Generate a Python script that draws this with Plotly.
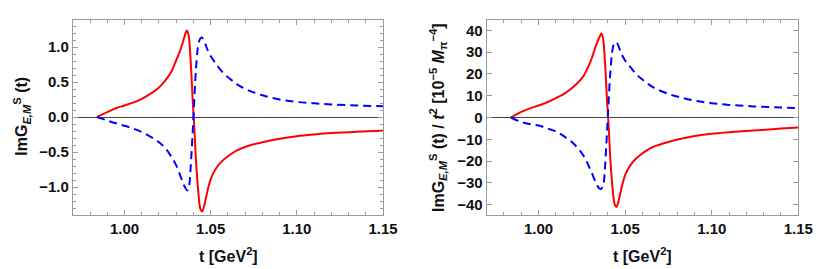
import plotly.graph_objects as go

# ---- data ----
t_red_l = [0.984, 0.990, 0.995, 1.000, 1.005, 1.010, 1.015, 1.020, 1.0236, 1.027, 1.0293, 1.032, 1.034, 1.0352,
           1.0362, 1.0372, 1.0380, 1.0388, 1.0396, 1.0404, 1.0412, 1.0420, 1.0430, 1.0440, 1.0450, 1.0460,
           1.0473, 1.0488, 1.0505, 1.0530, 1.0560, 1.060, 1.065, 1.072, 1.080, 1.090, 1.100, 1.110, 1.120,
           1.135, 1.150]
g_red_l = [0, 0.07, 0.125, 0.165, 0.205, 0.26, 0.33, 0.42, 0.52, 0.64, 0.77, 0.93, 1.08, 1.18,
           1.237, 1.17, 0.95, 0.62, 0.22, -0.1, -0.5, -0.82, -1.12, -1.31, -1.35, -1.29,
           -1.15, -0.99, -0.86, -0.74, -0.645, -0.56, -0.48, -0.41, -0.36, -0.31, -0.275, -0.25, -0.23,
           -0.21, -0.195]

t_blue_l = [0.984, 0.990, 0.995, 1.000, 1.005, 1.010, 1.015, 1.020, 1.0236, 1.027, 1.030, 1.033, 1.035,
            1.0365, 1.0375, 1.0383, 1.0391, 1.0399, 1.0407, 1.0415, 1.0425, 1.0435, 1.0445, 1.0455,
            1.0468, 1.048, 1.050, 1.0525, 1.0555, 1.0590, 1.063, 1.067, 1.073, 1.080, 1.090, 1.100,
            1.110, 1.120, 1.135, 1.150]
g_blue_l = [0, -0.05, -0.09, -0.125, -0.165, -0.215, -0.28, -0.36, -0.44, -0.56, -0.69, -0.88, -1.0,
            -1.05, -0.98, -0.75, -0.42, -0.05, 0.35, 0.70, 0.98, 1.10, 1.135, 1.12,
            1.05, 0.97, 0.87, 0.78, 0.68, 0.59, 0.51, 0.44, 0.37, 0.31, 0.25, 0.215,
            0.195, 0.18, 0.165, 0.153]

t_red_r = [0.984, 0.990, 0.995, 1.000, 1.005, 1.010, 1.015, 1.020, 1.0257, 1.030, 1.0333, 1.0352, 1.0362,
           1.0372, 1.0380, 1.0388, 1.0396, 1.0404, 1.0412, 1.0420, 1.0430, 1.0440, 1.0450, 1.0460,
           1.0473, 1.0488, 1.0505, 1.0532, 1.0560, 1.0589, 1.0625, 1.0665, 1.076, 1.0835, 1.0912,
           1.100, 1.110, 1.120, 1.129, 1.140, 1.150]
g_red_r = [0, 2.6, 4.2, 5.5, 7.0, 8.9, 11.0, 14.0, 18.8, 25.7, 33.4, 37.0, 38.6,
           36.5, 29.7, 19.5, 7.0, -3.0, -15.5, -25.5, -34.5, -40.0, -41.1, -39.0,
           -34.5, -29.5, -25.5, -21.8, -19.1, -17.1, -15.1, -13.4, -11.0, -9.6, -8.4,
           -7.5, -6.8, -6.2, -5.7, -5.1, -4.6]

t_blue_r = [0.984, 0.990, 0.995, 1.000, 1.005, 1.010, 1.015, 1.020, 1.0257, 1.030, 1.0333, 1.035, 1.0362,
            1.0375, 1.0383, 1.0391, 1.0399, 1.0407, 1.0415, 1.0425, 1.0435, 1.0445, 1.0455, 1.0468,
            1.048, 1.050, 1.0532, 1.0560, 1.0589, 1.0625, 1.0665, 1.076, 1.0835, 1.0912, 1.100,
            1.110, 1.120, 1.129, 1.140, 1.150]
g_blue_r = [0, -2.1, -3.0, -3.7, -5.0, -6.4, -8.8, -11.8, -17.2, -24.1, -30.2, -32.5, -32.8,
            -30.5, -23.5, -13.0, -1.5, 11.0, 21.5, 30.0, 33.8, 34.6, 34.0, 31.5,
            29.0, 26.2, 23.0, 20.3, 18.1, 15.9, 13.7, 10.6, 8.9, 7.6, 6.6,
            5.8, 5.3, 4.9, 4.6, 4.3]

x_ticks = [1.00, 1.05, 1.10, 1.15]
x_ticktext = ["1.00", "1.05", "1.10", "1.15"]
yl_ticks = [-1.0, -0.5, 0.0, 0.5, 1.0]
yl_ticktext = ["\u22121.0", "\u22120.5", "0.0", "0.5", "1.0"]
yr_ticks = [-40, -30, -20, -10, 0, 10, 20, 30, 40]
yr_ticktext = ["\u221240", "\u221230", "\u221220", "\u221210", "0", "10", "20", "30", "40"]

W, H = 822, 269
FONT = "Liberation Sans"

fig = go.Figure()
red = dict(color="#ff0000", width=2)
blue = dict(color="#0000ff", width=2, dash="8px,5px")
sm = dict(shape="spline", smoothing=1.0)

fig.add_trace(go.Scatter(x=t_red_l, y=g_red_l, mode="lines", line={**red, **sm}, xaxis="x", yaxis="y", showlegend=False))
fig.add_trace(go.Scatter(x=t_blue_l, y=g_blue_l, mode="lines", line={**blue, **sm}, xaxis="x", yaxis="y", showlegend=False))
fig.add_trace(go.Scatter(x=t_red_r, y=g_red_r, mode="lines", line={**red, **sm}, xaxis="x2", yaxis="y2", showlegend=False))
fig.add_trace(go.Scatter(x=t_blue_r, y=g_blue_r, mode="lines", line={**blue, **sm}, xaxis="x2", yaxis="y2", showlegend=False))

frame = "#9a9a9a"
tickfont = dict(family=FONT, size=15, color="#111", weight="bold")

def xax(domain, anchor):
    return dict(domain=domain, anchor=anchor, range=[0.970, 1.150], tickvals=x_ticks, ticktext=x_ticktext,
                ticks="inside", ticklen=5, tickcolor=frame, tickwidth=1, showline=True, linecolor=frame,
                linewidth=1, mirror="allticks", showgrid=False, zeroline=False, tickfont=tickfont,
                minor=dict(ticks="inside", ticklen=3, tickcolor=frame, dtick=0.01, tick0=1.0, showgrid=False))

def yax(domain, anchor, rng, tv, tt, minor_dtick):
    d = dict(domain=domain, anchor=anchor, range=rng, tickvals=tv, ticktext=tt,
             ticks="inside", ticklen=5, tickcolor=frame, tickwidth=1, showline=True, linecolor=frame,
             linewidth=1, mirror="allticks", showgrid=False, zeroline=True, zerolinecolor="#444",
             zerolinewidth=1, tickfont=tickfont)
    if minor_dtick:
        d["minor"] = dict(ticks="inside", ticklen=3, tickcolor=frame, dtick=minor_dtick, tick0=0, showgrid=False)
    return d

ydom = [(H - 207) / H, (H - 12) / H]
fig.update_layout(
    width=W, height=H, margin=dict(l=0, r=0, t=0, b=0),
    paper_bgcolor="white", plot_bgcolor="white",
    xaxis=xax([66 / W, 382 / W], "y"),
    yaxis=yax(ydom, "x", [-1.40, 1.386], yl_ticks, yl_ticktext, 0.1),
    xaxis2=xax([487.5 / W, 805 / W], "y2"),
    yaxis2=yax(ydom, "x2", [-44.8, 44.8], yr_ticks, yr_ticktext, None),
)

tfont = dict(family=FONT, size=16, color="#111")
ann = [
    dict(text="<b>ImG<sub><i>E,M</i></sub><sup>S</sup> (t)</b>", x=14 / W, y=1 - 108 / H, textangle=-90),
    dict(text="<b>ImG<sub><i>E,M</i></sub><sup>S</sup> (t) / <i>t</i><sup>2</sup> [10<sup>\u22125</sup> <i>M</i><sub>\u03c0</sub><sup>\u22124</sup>]</b>",
         x=438 / W, y=1 - 110 / H, textangle=-90),
    dict(text="<b>t [GeV<sup>2</sup>]</b>", x=225 / W, y=1 - 247 / H),
    dict(text="<b>t [GeV<sup>2</sup>]</b>", x=646 / W, y=1 - 247 / H),
]
for a in ann:
    fig.add_annotation(xref="paper", yref="paper", xanchor="center", yanchor="middle", showarrow=False,
                       font=tfont, **a)

fig.write_html("out.html")
